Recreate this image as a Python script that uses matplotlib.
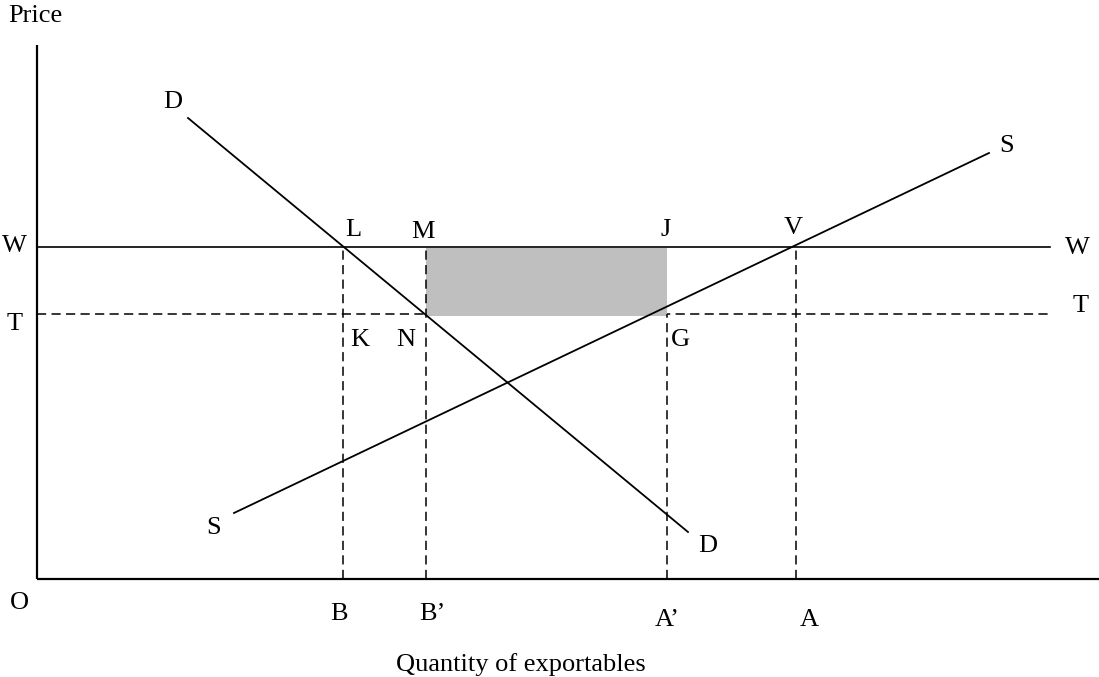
import matplotlib.pyplot as plt
from matplotlib.patches import Rectangle

plt.rcParams['font.family'] = ['Liberation Serif', 'DejaVu Serif']

# world price W and tariff-reduced price T
price_w = 332
price_t = 265

# quantities on the horizontal axis
q_b = 306
q_b2 = 389
q_a2 = 630
q_a = 759

# demand and supply curves (quantity, price)
demand_q = [151, 651]
demand_p = [461, 47]
supply_q = [197, 952]
supply_p = [66, 426]

axis_top = 534
axis_right = 1062
line_end = 1013

fig = plt.figure(figsize=(10.99, 6.77), dpi=100)
ax = fig.add_axes([0, 0, 1, 1])
ax.set_xlim(-37, 1062)
ax.set_ylim(-98, 579)
ax.axis('off')

# axes
ax.plot([0, 0], [0, axis_top], color='black', lw=1.6, solid_capstyle='butt')
ax.plot([0, axis_right], [0, 0], color='black', lw=1.6, solid_capstyle='butt')

# price lines
ax.plot([0, line_end], [price_w, price_w], color='black', lw=1.2, zorder=1)
ax.plot([0, line_end], [price_t, price_t], color='black', lw=1.1, dashes=(6, 3.5), zorder=1)

# shaded revenue rectangle (covers the dashed T line underneath)
ax.add_patch(Rectangle((q_b2, price_t - 2), q_a2 - q_b2, price_w - price_t + 1,
                       facecolor='#bfbfbf', edgecolor='none', zorder=2))

# vertical dashed lines
dash = dict(color='black', lw=1.1, dashes=(6, 3.5), zorder=3)
ax.plot([q_b, q_b], [0, price_w], **dash)
ax.plot([q_b2, q_b2], [0, price_w], **dash)
ax.plot([q_a2, q_a2], [0, price_t], **dash)
ax.plot([q_a, q_a], [0, price_w], **dash)

# demand and supply
ax.plot(demand_q, demand_p, color='black', lw=1.3, zorder=4)
ax.plot(supply_q, supply_p, color='black', lw=1.3, zorder=4)

fs = 19
def lab(x, y, s):
    ax.text(x, y, s, fontsize=fs, ha='center', va='center')

lab(-2, 563, 'Price')
lab(-18, -24, 'O')
lab(-23, 333, 'W')
lab(-22, 255, 'T')
lab(1040, 331, 'W')
lab(1044, 273, 'T')
lab(970, 433, 'S')
lab(177, 51, 'S')
lab(136, 477, 'D')
lab(671, 33, 'D')
lab(756, 351, 'V')
lab(316, 349, 'L')
lab(386, 347, 'M')
lab(629, 349, 'J')
lab(323, 239, 'K')
lab(369, 239, 'N')
lab(643, 239, 'G')
lab(302, -35, 'B')
lab(395, -35, 'B\u2019')
lab(630, -41, 'A\u2019')
lab(772, -41, 'A')
lab(484, -86, 'Quantity of exportables')

fig.savefig('out.png', dpi=100)
